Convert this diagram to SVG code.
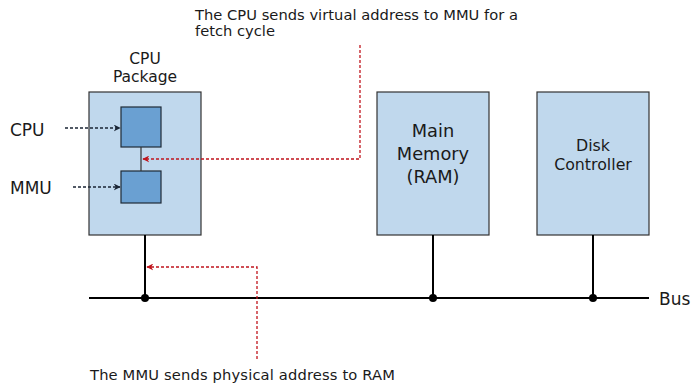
<svg xmlns="http://www.w3.org/2000/svg" width="694" height="384" viewBox="0 0 694 384">
<defs>
<style>
text{font-family:"DejaVu Sans","Liberation Sans",sans-serif;fill:#1a1a1a}
.box{fill:#c0d8ed;stroke:#333;stroke-width:1.2}
.chip{fill:#6aa0d2;stroke:#1f2a36;stroke-width:1.2}
.wire{stroke:#000;stroke-width:2;fill:none}
.thin{stroke:#333;stroke-width:1.2;fill:none}
.red{stroke:#c0141c;stroke-width:1.3;stroke-dasharray:3,2;fill:none}
.blk{stroke:#1a2535;stroke-width:1.3;stroke-dasharray:3,2;fill:none}
</style>
<marker id="ar" viewBox="0 0 10 10" refX="9" refY="5" markerWidth="7" markerHeight="7" orient="auto" markerUnits="userSpaceOnUse"><path d="M0,0 L10,5 L0,10 L3,5 Z" fill="#c0141c"/></marker>
<marker id="ab" viewBox="0 0 10 10" refX="9" refY="5" markerWidth="7" markerHeight="7" orient="auto" markerUnits="userSpaceOnUse"><path d="M0,0 L10,5 L0,10 L3,5 Z" fill="#1a2535"/></marker>
</defs>
<rect width="694" height="384" fill="#fff"/>
<g id="cpu-package">
<rect class="box" x="89" y="92" width="112" height="143"/>
<text x="145" y="64" font-size="15.5" text-anchor="middle">CPU</text>
<text x="145" y="82" font-size="15.5" text-anchor="middle">Package</text>
</g>
<g id="cpu">
<rect class="chip" x="121" y="107" width="40" height="40"/>
<text x="10" y="136" font-size="17">CPU</text>
</g>
<g id="mmu">
<rect class="chip" x="121" y="171" width="40" height="32"/>
<text x="10" y="194" font-size="17">MMU</text>
</g>
<g id="main-memory">
<rect class="box" x="377" y="92" width="112" height="143"/>
<text x="433" y="137" font-size="17.8" text-anchor="middle">Main</text>
<text x="433" y="160" font-size="17.8" text-anchor="middle">Memory</text>
<text x="433" y="183" font-size="17.8" text-anchor="middle">(RAM)</text>
</g>
<g id="disk-controller">
<rect class="box" x="537" y="92" width="112" height="143"/>
<text x="593" y="151" font-size="15.8" text-anchor="middle">Disk</text>
<text x="593" y="170" font-size="15.8" text-anchor="middle">Controller</text>
</g>
<g id="bus-label"><text x="659" y="305" font-size="17">Bus</text></g>
<g id="note-virtual">
<text x="195" y="20" font-size="14.7" textLength="323">The CPU sends virtual address to MMU for a</text>
<text x="195" y="36" font-size="14.7">fetch cycle</text>
</g>
<g id="note-physical">
<text x="90" y="380" font-size="14.7" textLength="305">The MMU sends physical address to RAM</text>
</g>
<g id="connectors">
<line class="thin" x1="141" y1="147" x2="141" y2="171"/>
<line class="wire" x1="89" y1="298" x2="649" y2="298"/>
<line class="wire" x1="145" y1="235" x2="145" y2="298"/>
<line class="wire" x1="433" y1="235" x2="433" y2="298"/>
<line class="wire" x1="593" y1="235" x2="593" y2="298"/>
<circle cx="145" cy="298" r="4"/>
<circle cx="433" cy="298" r="4"/>
<circle cx="593" cy="298" r="4"/>
<polyline class="red" points="360,45 360,159 143,159" marker-end="url(#ar)"/>
<polyline class="red" points="257,359 257,267 147,267" marker-end="url(#ar)"/>
<line class="blk" x1="65" y1="128" x2="120" y2="128" marker-end="url(#ab)"/>
<line class="blk" x1="73" y1="187" x2="120" y2="187" marker-end="url(#ab)"/>
</g>
</svg>
